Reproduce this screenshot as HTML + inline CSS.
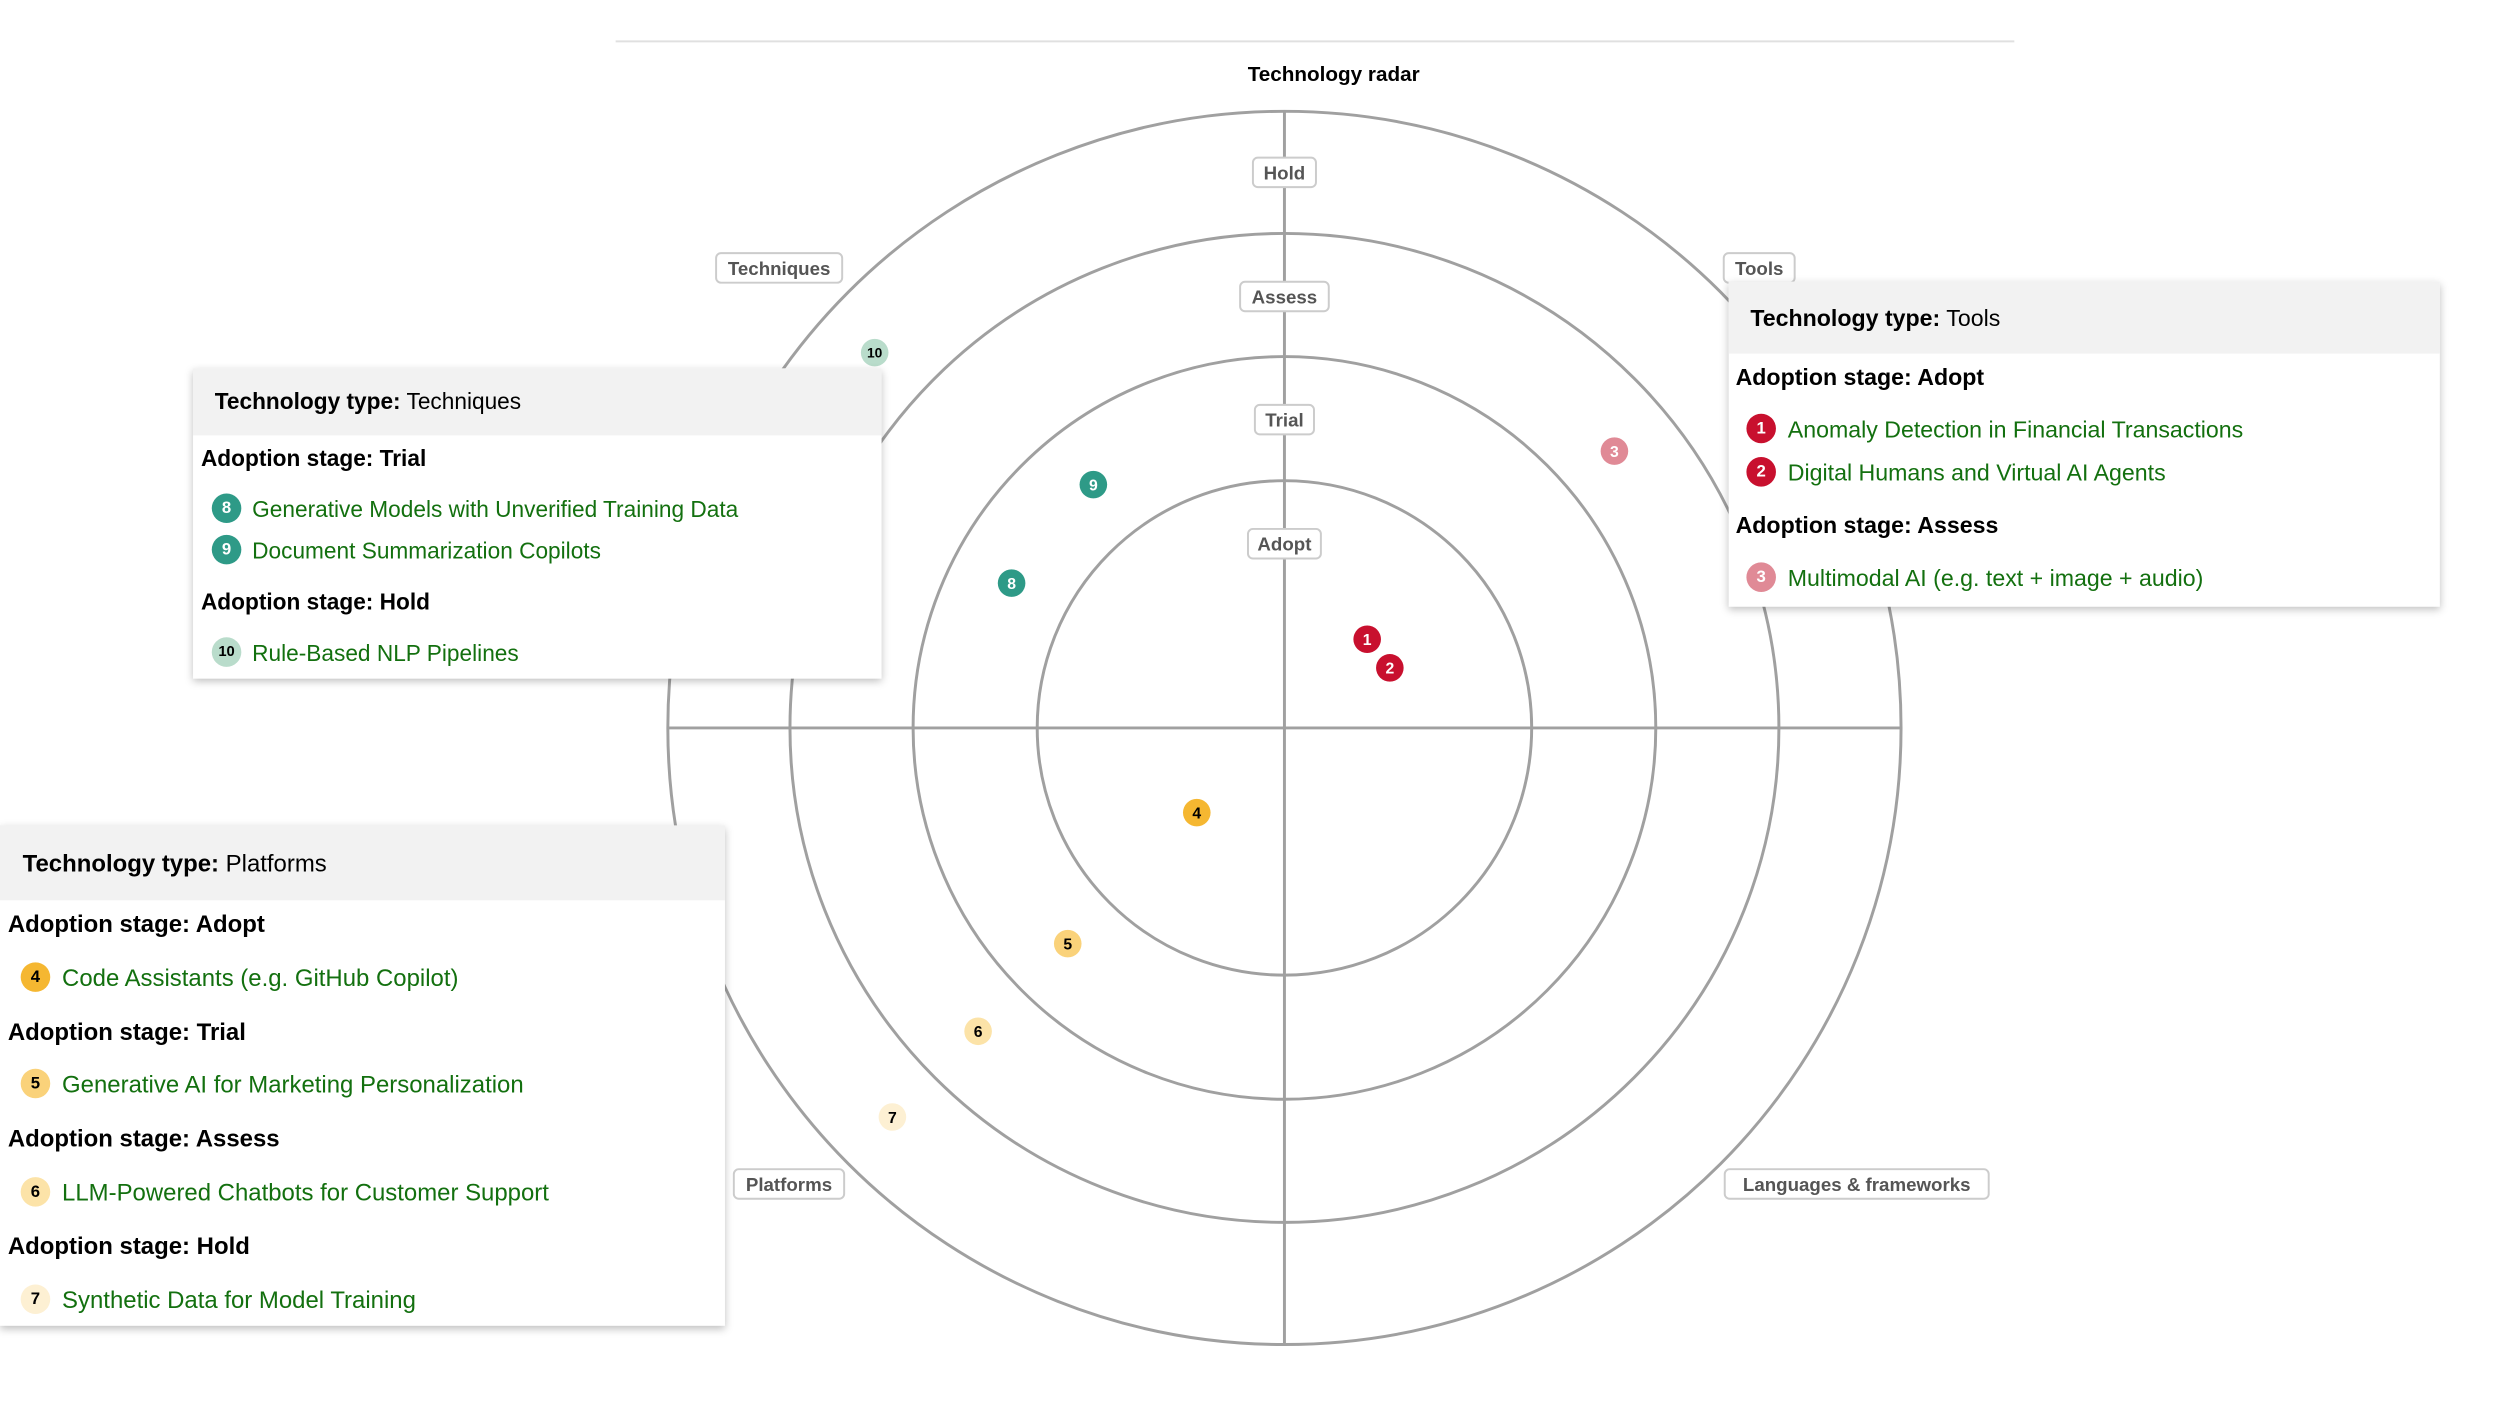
<!DOCTYPE html>
<html><head><meta charset="utf-8"><style>
html,body{margin:0;padding:0;background:#fff;width:2500px;height:1406px;overflow:hidden;font-family:"Liberation Sans",Arial,sans-serif;}
#wrap{position:absolute;left:0;top:0;width:2540px;height:1430px;transform:scale(0.985);transform-origin:0 0}
svg{position:absolute;left:0;top:0}
.tip{position:absolute;background:#fff;box-shadow:0 3px 8px rgba(0,0,0,0.25);font-size:23.5px;color:#000}
.hd{position:absolute;left:0;right:0;top:0;background:#f2f2f2}
.t{position:absolute;white-space:nowrap;line-height:1}
.b{font-weight:bold}
.g{color:#13700f}
.c{position:absolute;width:30px;height:30px;border-radius:50%;font-size:17px;font-weight:bold;text-align:center;line-height:30px}
</style></head><body><div id="wrap">
<svg width="2540" height="1430" viewBox="0 0 2540 1430">
<line x1="625" y1="42" x2="2045" y2="42" stroke="#e0e0e0" stroke-width="2"/>
<text x="1354" y="82" font-size="21" font-weight="bold" text-anchor="middle" font-family="Liberation Sans">Technology radar</text>
<g fill="none" stroke="#a0a0a0" stroke-width="3">
<circle cx="1304" cy="739" r="251"/><circle cx="1304" cy="739" r="377"/><circle cx="1304" cy="739" r="502"/><circle cx="1304" cy="739" r="626"/>
<line x1="678" y1="739" x2="1930" y2="739"/><line x1="1304" y1="113" x2="1304" y2="1365"/>
</g>
<g font-family="Liberation Sans" font-size="19" font-weight="bold" fill="#555" text-anchor="middle">
<rect x="1272" y="160" width="64" height="30" rx="5" fill="#fff" stroke="#ccc" stroke-width="2"/><text x="1304" y="182">Hold</text>
<rect x="1259" y="286" width="90" height="30" rx="5" fill="#fff" stroke="#ccc" stroke-width="2"/><text x="1304" y="308">Assess</text>
<rect x="1274" y="411" width="60" height="30" rx="5" fill="#fff" stroke="#ccc" stroke-width="2"/><text x="1304" y="433">Trial</text>
<rect x="1267" y="537" width="74" height="30" rx="5" fill="#fff" stroke="#ccc" stroke-width="2"/><text x="1304" y="559">Adopt</text>
<rect x="727" y="257" width="128" height="30" rx="5" fill="#fff" stroke="#ccc" stroke-width="2"/><text x="791" y="279">Techniques</text>
<rect x="1750" y="257" width="72" height="30" rx="5" fill="#fff" stroke="#ccc" stroke-width="2"/><text x="1786" y="279">Tools</text>
<rect x="745" y="1187" width="112" height="30" rx="5" fill="#fff" stroke="#ccc" stroke-width="2"/><text x="801" y="1209">Platforms</text>
<rect x="1751" y="1187" width="268" height="30" rx="5" fill="#fff" stroke="#ccc" stroke-width="2"/><text x="1885" y="1209">Languages &amp; frameworks</text>
</g>
<g font-family="Liberation Sans" font-size="16" font-weight="bold" text-anchor="middle">
<circle cx="1388" cy="649" r="14" fill="#c8102e"/><text x="1388" y="655" fill="#fff">1</text>
<circle cx="1411" cy="678" r="14" fill="#c8102e"/><text x="1411" y="684" fill="#fff">2</text>
<circle cx="1639" cy="458" r="14" fill="#e08a96"/><text x="1639" y="464" fill="#fff">3</text>
<circle cx="1215" cy="825" r="14" fill="#f5b731"/><text x="1215" y="831" fill="#000">4</text>
<circle cx="1084" cy="958" r="14" fill="#fad27a"/><text x="1084" y="964" fill="#000">5</text>
<circle cx="993" cy="1047" r="14" fill="#fce3a8"/><text x="993" y="1053" fill="#000">6</text>
<circle cx="906" cy="1134" r="14" fill="#fdf0d3"/><text x="906" y="1140" fill="#000">7</text>
<circle cx="1027" cy="592" r="14" fill="#2e9a87"/><text x="1027" y="598" fill="#fff">8</text>
<circle cx="1110" cy="492" r="14" fill="#2e9a87"/><text x="1110" y="498" fill="#fff">9</text>
<circle cx="888" cy="358" r="14" fill="#b9dccb"/><text x="888" y="363" fill="#000" font-size="14">10</text>
</g>
</svg>

<div class="tip" style="left:196px;top:374px;width:699px;height:315px;font-size:23px">
<div class="hd" style="height:68px"></div>
<div class="t" style="left:22px;top:22px"><span class="b">Technology type:</span> Techniques</div>
<div class="t b" style="left:8px;top:80px">Adoption stage: Trial</div>
<div class="c" style="left:19px;top:127px;background:#2e9a87;color:#fff">8</div><div class="t g" style="left:60px;top:132px">Generative Models with Unverified Training Data</div>
<div class="c" style="left:19px;top:169px;background:#2e9a87;color:#fff">9</div><div class="t g" style="left:60px;top:174px">Document Summarization Copilots</div>
<div class="t b" style="left:8px;top:226px">Adoption stage: Hold</div>
<div class="c" style="left:19px;top:273px;background:#b9dccb;color:#000;font-size:15px">10</div><div class="t g" style="left:60px;top:278px">Rule-Based NLP Pipelines</div>
</div>

<div class="tip" style="left:1755px;top:286px;width:722px;height:330px">
<div class="hd" style="height:73px"></div>
<div class="t" style="left:22px;top:26px"><span class="b">Technology type:</span> Tools</div>
<div class="t b" style="left:7px;top:86px">Adoption stage: Adopt</div>
<div class="c" style="left:18px;top:134px;background:#c8102e;color:#fff">1</div><div class="t g" style="left:60px;top:139px">Anomaly Detection in Financial Transactions</div>
<div class="c" style="left:18px;top:178px;background:#c8102e;color:#fff">2</div><div class="t g" style="left:60px;top:183px">Digital Humans and Virtual AI Agents</div>
<div class="t b" style="left:7px;top:236px">Adoption stage: Assess</div>
<div class="c" style="left:18px;top:285px;background:#e08a96;color:#fff">3</div><div class="t g" style="left:60px;top:290px">Multimodal AI (e.g. text + image + audio)</div>
</div>

<div class="tip" style="left:0px;top:838px;width:736px;height:508px;font-size:24.3px">
<div class="hd" style="height:76px"></div>
<div class="t" style="left:23px;top:28px"><span class="b">Technology type:</span> Platforms</div>
<div class="t b" style="left:8px;top:89px">Adoption stage: Adopt</div>
<div class="c" style="left:21px;top:139px;background:#f5b731;color:#000">4</div><div class="t g" style="left:63px;top:144px">Code Assistants (e.g. GitHub Copilot)</div>
<div class="t b" style="left:8px;top:199px">Adoption stage: Trial</div>
<div class="c" style="left:21px;top:247px;background:#fad27a;color:#000">5</div><div class="t g" style="left:63px;top:252px">Generative AI for Marketing Personalization</div>
<div class="t b" style="left:8px;top:307px">Adoption stage: Assess</div>
<div class="c" style="left:21px;top:357px;background:#fce3a8;color:#000">6</div><div class="t g" style="left:63px;top:362px">LLM-Powered Chatbots for Customer Support</div>
<div class="t b" style="left:8px;top:416px">Adoption stage: Hold</div>
<div class="c" style="left:21px;top:466px;background:#fdf0d3;color:#000">7</div><div class="t g" style="left:63px;top:471px">Synthetic Data for Model Training</div>
</div>
</div></body></html>
